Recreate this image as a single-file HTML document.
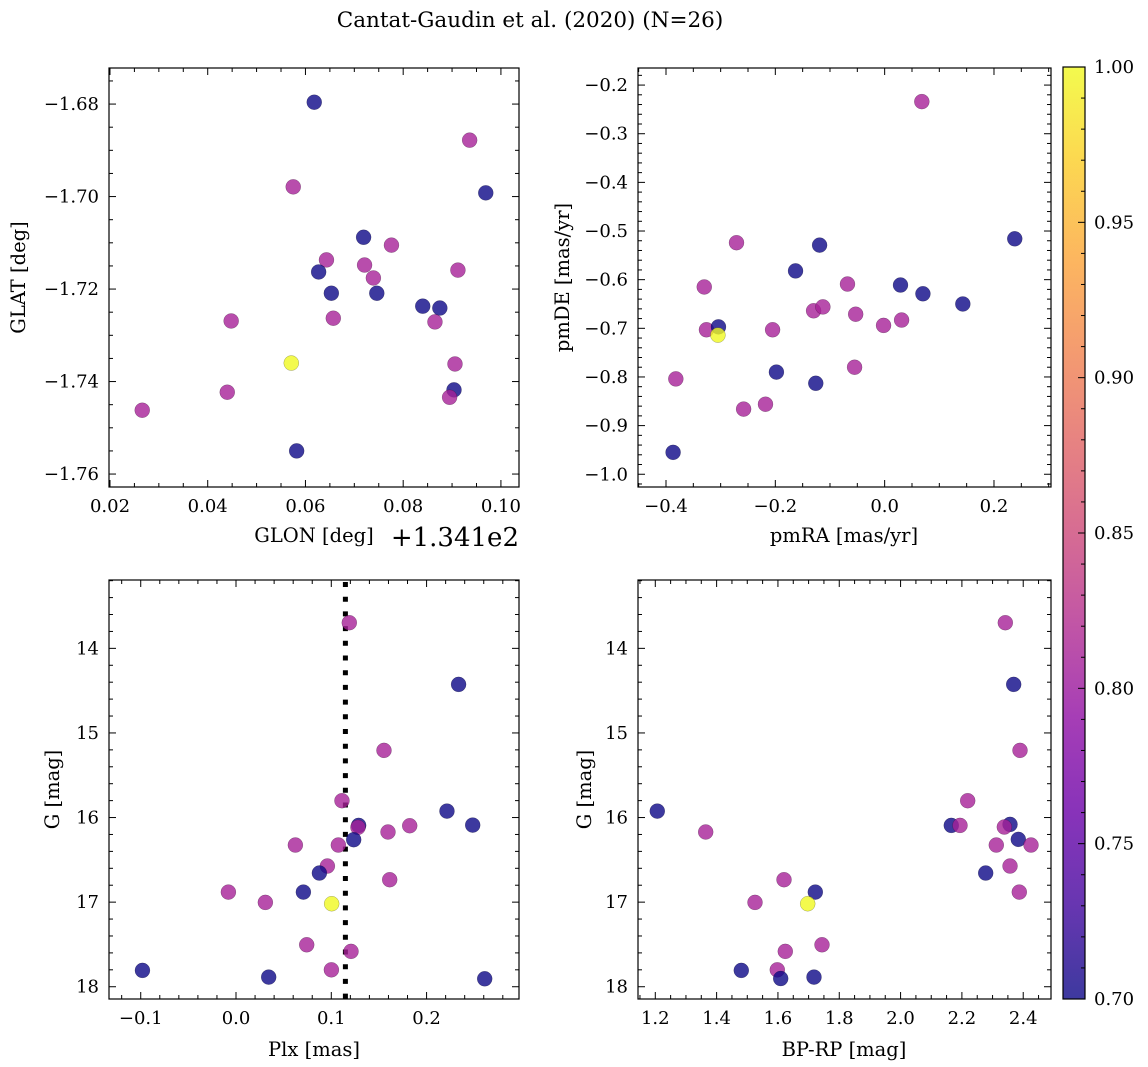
<!DOCTYPE html>
<html><head><meta charset="utf-8"><style>
html,body{margin:0;padding:0;background:#fff;}
svg{display:block;font-family:"DejaVu Serif","Liberation Serif",serif;}
</style></head><body>
<svg id="fig" width="1148" height="1067" viewBox="0 0 1148 1067" xmlns="http://www.w3.org/2000/svg">
<rect width="1148" height="1067" fill="#fff"/>
<text x="530" y="27" font-size="21.5" text-anchor="middle">Cantat-Gaudin et al. (2020) (N=26)</text>
</svg>
<script>
// ---------- data ----------
const glonOffset = [0.0618,0.0936,0.0575,0.0969,0.0719,0.0776,0.0643,0.0721,0.0627,0.0912,0.0739,0.0653,0.0746,0.0840,0.0875,0.0448,0.0657,0.0865,0.0571,0.0906,0.0440,0.0904,0.0895,0.0266,0.0582];
const glat = [-1.6796,-1.6878,-1.6979,-1.6992,-1.7088,-1.7105,-1.7137,-1.7148,-1.7163,-1.7159,-1.7176,-1.7209,-1.7209,-1.7237,-1.7241,-1.7269,-1.7263,-1.7271,-1.7360,-1.7362,-1.7423,-1.7418,-1.7434,-1.7462,-1.7550];
const probPos = [0.70,0.81,0.81,0.70,0.70,0.81,0.81,0.81,0.70,0.81,0.81,0.70,0.70,0.70,0.70,0.81,0.81,0.81,1.00,0.81,0.81,0.70,0.81,0.81,0.70];

const pmRA = [0.068,0.238,-0.271,-0.119,-0.163,-0.068,-0.330,0.029,0.070,0.143,-0.130,-0.113,-0.053,-0.002,0.031,-0.326,-0.304,-0.305,-0.205,-0.198,-0.055,-0.382,-0.126,-0.258,-0.218,-0.387];
const pmDE = [-0.234,-0.516,-0.524,-0.529,-0.582,-0.609,-0.615,-0.611,-0.629,-0.650,-0.664,-0.656,-0.671,-0.694,-0.683,-0.703,-0.697,-0.714,-0.703,-0.790,-0.780,-0.804,-0.813,-0.866,-0.856,-0.955];
const probPm = [0.81,0.70,0.81,0.70,0.70,0.81,0.81,0.70,0.70,0.70,0.81,0.81,0.81,0.81,0.81,0.81,0.70,1.00,0.81,0.70,0.81,0.81,0.70,0.81,0.81,0.70];

const plx = [0.1189,0.2336,0.1553,0.1112,0.2214,0.1287,0.1280,0.2484,0.1823,0.1595,0.1235,0.0623,0.1074,0.0959,0.0875,0.1613,0.0707,-0.0080,0.0308,0.1004,0.0742,0.1207,-0.0982,0.1001,0.0343,0.2610];
const gPlx = [13.697,14.426,15.206,15.801,15.924,16.093,16.116,16.089,16.097,16.171,16.262,16.325,16.325,16.573,16.656,16.735,16.881,16.881,17.003,17.019,17.504,17.582,17.807,17.800,17.886,17.906];
const probPlx = [0.81,0.70,0.81,0.81,0.70,0.70,0.81,0.70,0.81,0.81,0.70,0.81,0.81,0.81,0.70,0.81,0.70,0.81,0.81,1.00,0.81,0.81,0.70,0.81,0.70,0.70];
const plxMedian = [0.1148];

const bprp = [2.3416,2.3689,2.3895,2.2189,1.2065,2.1654,2.1938,2.3570,2.3384,1.3644,2.3840,2.3122,2.4254,2.3570,2.2776,1.6198,1.7219,2.3872,1.5252,1.6971,1.7437,1.6240,1.4805,1.5979,1.6090,1.7176];
const gCmd = [13.697,14.426,15.206,15.801,15.924,16.093,16.093,16.081,16.112,16.171,16.258,16.325,16.325,16.573,16.656,16.735,16.881,16.881,17.003,17.019,17.504,17.582,17.807,17.800,17.903,17.886];
const probCmd = [0.81,0.70,0.81,0.81,0.70,0.70,0.81,0.70,0.81,0.81,0.70,0.81,0.81,0.81,0.70,0.81,0.70,0.81,0.81,1.00,0.81,0.81,0.70,0.81,0.70,0.70];

const ticksGlon = [0.02,0.04,0.06,0.08,0.10];
const ticksGlat = [-1.68,-1.70,-1.72,-1.74,-1.76];
const ticksPmRA = [-0.4,-0.2,0.0,0.2];
const ticksPmDE = [-0.2,-0.3,-0.4,-0.5,-0.6,-0.7,-0.8,-0.9,-1.0];
const ticksPlx = [-0.1,0.0,0.1,0.2];
const ticksG = [14,15,16,17,18];
const ticksBprp = [1.2,1.4,1.6,1.8,2.0,2.2,2.4];
const ticksCbar = [0.70,0.75,0.80,0.85,0.90,0.95,1.00];

// ---------- helpers ----------
const NS = "http://www.w3.org/2000/svg";
const svg = document.getElementById('fig');
const TICK_FS = 18, LABEL_FS = 19.5;
function el(tag, attrs, parent){
  const e = document.createElementNS(NS, tag);
  for (const k in attrs) e.setAttribute(k, attrs[k]);
  (parent||svg).appendChild(e);
  return e;
}
const plasma = ["#0d0887","#41049d","#6a00a8","#8f0da4","#b12a90","#cc4778","#e16462","#f2844b","#fca636","#fcce25","#f0f921"];
function hex(h){return [parseInt(h.slice(1,3),16),parseInt(h.slice(3,5),16),parseInt(h.slice(5,7),16)];}
function cmap(v){
  let t = (v-0.7)/0.3; t=Math.max(0,Math.min(1,t));
  const p = t*10, i = Math.min(9,Math.floor(p)), f = p-i;
  const a = hex(plasma[i]), b = hex(plasma[i+1]);
  const c = a.map((x,k)=>Math.round(x+(b[k]-x)*f));
  return `rgb(${c[0]},${c[1]},${c[2]})`;
}
function fmt(v,d){ const s = Math.abs(v).toFixed(d); return (v< -1e-9 ? "\u2212" : "") + s; }

function panel(cfg){
  const g = el('g',{});
  
  
  const {x0,x1,y0,y1,xmin,xmax,ymin,ymax} = cfg;
  const sx = v => x0 + (v-xmin)/(xmax-xmin)*(x1-x0);
  const sy = cfg.invert ? (v => y0 + (v-ymin)/(ymax-ymin)*(y1-y0)) : (v => y1 - (v-ymin)/(ymax-ymin)*(y1-y0));
  const tg = el('g',{stroke:'#000','stroke-width':1},g);
  function xticks(ticks, sub){
    const step = ticks[1]-ticks[0];
    for (let k=-1;k<ticks.length+1;k++){
      for (let m=0;m<sub;m++){
        const v = ticks[0] + (k + m/sub)*step;
        const X = sx(v); if (X<x0-0.5||X>x1+0.5) continue;
        const L = m===0?7:4;
        el('line',{x1:X,x2:X,y1:y1,y2:y1-L},tg); el('line',{x1:X,x2:X,y1:y0,y2:y0+L},tg);
      }
    }
  }
  function yticks(ticks, sub){
    const step = ticks[1]-ticks[0];
    for (let k=-1;k<ticks.length+1;k++){
      for (let m=0;m<sub;m++){
        const v = ticks[0] + (k + m/sub)*step;
        const Y = sy(v); if (Y<y0-0.5||Y>y1+0.5) continue;
        const L = m===0?7:4;
        el('line',{y1:Y,y2:Y,x1:x0,x2:x0+L},tg); el('line',{y1:Y,y2:Y,x1:x1,x2:x1-L},tg);
      }
    }
  }
  xticks(cfg.xt, cfg.xsub); yticks(cfg.yt, cfg.ysub);
  cfg.xt.forEach(v=>{
    const t = el('text',{x:sx(v),y:y1+25,'font-size':TICK_FS,'text-anchor':'middle'},g);
    t.textContent = fmt(v,cfg.xd);
    
    
  });
  cfg.yt.forEach(v=>{
    const t = el('text',{x:x0-10,y:sy(v)+6,'font-size':TICK_FS,'text-anchor':'end'},g);
    t.textContent = fmt(v,cfg.yd);
    
    
  });
  if (cfg.vline){
    const l = el('line',{x1:sx(cfg.vline[0]),x2:sx(cfg.vline[0]),y1:y0+2,y2:y1,stroke:'#000','stroke-width':5,'stroke-dasharray':'5 9.7'},g);
    
    
  }
  const pg = el('g',{},g);
  cfg.xs.forEach((v,i)=>{
    const c = el('circle',{cx:sx(v),cy:sy(cfg.ys[i]),r:7.5,fill:cmap(cfg.c[i]),'fill-opacity':0.8,stroke:'rgba(0,0,0,0.35)','stroke-width':0.5},pg);
    
    
  });
  const fr = el('rect',{x:x0,y:y0,width:x1-x0,height:y1-y0,fill:'none',stroke:'#000','stroke-width':1.2},g);
  
  
  const xl = el('text',{x:cfg.xlx,y:cfg.xly,'font-size':LABEL_FS,'text-anchor':'middle'},g);
  xl.textContent = cfg.xlabel;
  
  
  const yl = el('text',{x:0,y:0,'font-size':LABEL_FS,'text-anchor':'middle',transform:`translate(${cfg.ylx},${(y0+y1)/2}) rotate(-90)`},g);
  yl.textContent = cfg.ylabel;
  
  
}

panel({name:'position-panel',x0:109,x1:519,y0:68,y1:487,xmin:0.0198,xmax:0.1037,ymin:-1.7628,ymax:-1.6722,
  xt:ticksGlon,yt:ticksGlat,xsub:4,ysub:4,xd:2,yd:2,xs:glonOffset,ys:glat,c:probPos,
  xlabel:'GLON [deg]',xlx:314,xly:542,ylabel:'GLAT [deg]',ylx:25});
panel({name:'proper-motion-panel',x0:638,x1:1051,y0:68,y1:487,xmin:-0.4512,xmax:0.3043,ymin:-1.0262,ymax:-0.1649,
  xt:ticksPmRA,yt:ticksPmDE,xsub:4,ysub:5,xd:1,yd:1,xs:pmRA,ys:pmDE,c:probPm,
  xlabel:'pmRA [mas/yr]',xlx:844,xly:542,ylabel:'pmDE [mas/yr]',ylx:569});
panel({name:'parallax-panel',x0:109,x1:519,y0:580,y1:999,xmin:-0.1333,xmax:0.2970,ymin:13.192,ymax:18.145,invert:true,
  xt:ticksPlx,yt:ticksG,xsub:5,ysub:5,xd:1,yd:0,xs:plx,ys:gPlx,c:probPlx,vline:plxMedian,
  xlabel:'Plx [mas]',xlx:314,xly:1056,ylabel:'G [mag]',ylx:59});
panel({name:'cmd-panel',x0:638,x1:1051,y0:580,y1:999,xmin:1.1436,xmax:2.4906,ymin:13.192,ymax:18.145,invert:true,
  xt:ticksBprp,yt:ticksG,xsub:4,ysub:5,xd:1,yd:0,xs:bprp,ys:gCmd,c:probCmd,
  xlabel:'BP-RP [mag]',xlx:844,xly:1056,ylabel:'G [mag]',ylx:591});

const off = el('text',{x:519,y:546,'font-size':26,'text-anchor':'end'});
off.textContent = '+1.341e2';



const cb = el('g',{});


const defs = el('defs',{},cb);
const lg = el('linearGradient',{id:'cbg',x1:0,y1:1,x2:0,y2:0},defs);
for (let i=0;i<=20;i++){ el('stop',{offset:i/20,'stop-color':cmap(0.7+0.3*i/20),'stop-opacity':0.8},lg); }
const cbx0=1063,cbx1=1085,cby0=67,cby1=999;
el('rect',{x:cbx0,y:cby0,width:cbx1-cbx0,height:cby1-cby0,fill:'url(#cbg)'},cb);
const cs = v => cby1 - (v-0.7)/0.3*(cby1-cby0);
for (let k=0;k<=30;k++){
  const v = 0.7 + k*0.01; const Y = cs(v); const major = k%5===0;
  el('line',{x1:cbx1,x2:cbx1-(major?7:4),y1:Y,y2:Y,stroke:'#000','stroke-width':1},cb);
}
ticksCbar.forEach(v=>{
  const t = el('text',{x:cbx1+9,y:cs(v)+6,'font-size':TICK_FS},cb);
  t.textContent = v.toFixed(2);
  
  
});
el('rect',{x:cbx0,y:cby0,width:cbx1-cbx0,height:cby1-cby0,fill:'none',stroke:'#000','stroke-width':1.2},cb);
</script>
</body></html>
